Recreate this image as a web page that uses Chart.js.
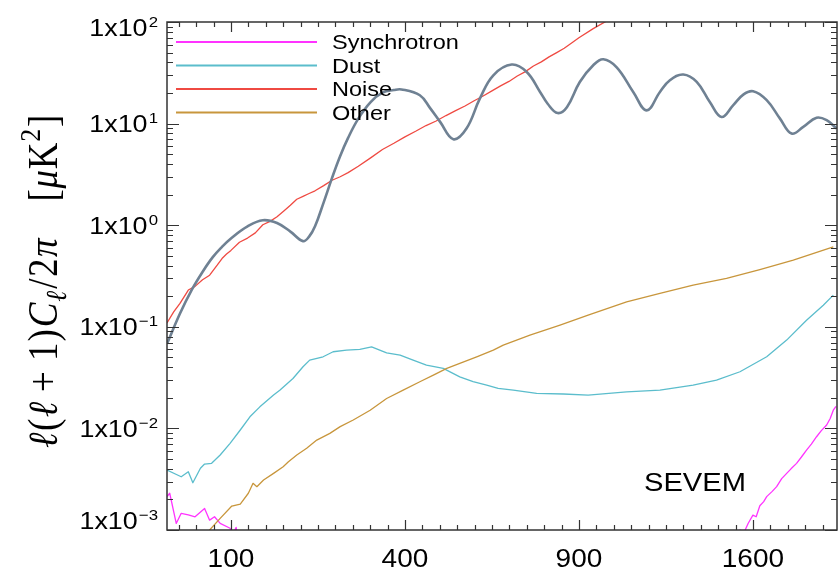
<!DOCTYPE html>
<html>
<head>
<meta charset="utf-8">
<script src="https://cdn.jsdelivr.net/npm/chart.js@4.4.1/dist/chart.umd.min.js"></script>
<style>
  html, body { margin: 0; padding: 0; background: #fff; }
  canvas { display: block; }
</style>
</head>
<body>
<canvas id="spec" width="838" height="575"></canvas>
<script>
// EE band powers l(l+1)C_l/2pi in muK^2, SEVEM component split
const ellCmb = [40, 50, 60, 70, 80, 90, 100, 120, 140, 160, 180, 200, 210, 220, 235, 250, 265, 280, 300, 325,
  350, 375, 392, 435, 460, 485, 519, 554, 591, 629, 683, 729, 771, 796, 828, 859, 903, 950, 986, 1035,
  1097, 1149, 1201, 1241, 1296, 1352, 1408, 1459, 1511, 1556, 1601, 1664, 1727, 1783, 1840, 1906, 1957, 2008];
const cmb = [0.068, 0.135, 0.231, 0.347, 0.482, 0.612, 0.741, 0.973, 1.12, 1.05, 0.865, 0.697, 0.771, 0.975, 1.68, 2.92, 4.8, 7.24, 11.2, 16.3,
  20.2, 21.4, 21.7, 19.0, 14.2, 10.4, 7.02, 8.94, 17.7, 29.9, 38.1, 32.2, 20.5, 15.6, 12.7, 14.5, 25.7, 37.5, 43.0, 35.8,
  20.5, 13.5, 20.5, 26.7, 30.4, 25.7, 16.3, 11.6, 15.2, 19.3, 20.8, 17.0, 11.2, 7.98, 9.27, 11.4, 10.8, 8.94];

const ellNoise = [40, 45, 50, 57, 63, 70, 77, 85, 90, 95, 100, 110, 120, 130, 140, 150, 160, 170, 180, 190,
  200, 210, 220, 235, 250, 265, 280, 300, 325, 350, 375, 400, 425, 450, 475, 500, 525, 550, 575, 600,
  625, 650, 675, 700, 725, 750, 775, 800, 825, 850, 875, 900, 950, 1000, 1050];
const noise = [0.109, 0.14, 0.17, 0.23, 0.25, 0.29, 0.322, 0.406, 0.47, 0.52, 0.565, 0.68, 0.747, 0.84, 1.01, 1.09, 1.21, 1.38, 1.57, 1.80,
  1.92, 2.05, 2.18, 2.45, 2.77, 3.0, 3.29, 3.81, 4.6, 5.56, 6.4, 7.41, 8.4, 9.57, 10.6, 12.0, 13.4, 14.9, 16.8, 18.7,
  21.0, 23.5, 26.0, 29.4, 32.5, 36.9, 40.5, 45.4, 50.0, 55.1, 62.0, 70.0, 86.0, 103, 122];

const ellDust = [40, 51, 57, 61, 68, 72, 79, 88, 99, 111, 123, 136, 155, 164, 184, 200, 211, 234, 252, 277,
  303, 327, 359, 389, 419, 451, 493, 536, 572, 610, 643, 688, 760, 847, 932, 1072, 1201, 1337, 1437, 1541,
  1664, 1759, 1856, 1940, 1991];
const dust = [0.00389, 0.00334, 0.00374, 0.00292, 0.00405, 0.00446, 0.00453, 0.00547, 0.00713, 0.00964, 0.0130, 0.0163, 0.0213, 0.0238, 0.0310, 0.0404, 0.0470, 0.0507, 0.0568, 0.0590,
  0.0600, 0.0635, 0.0555, 0.0526, 0.0470, 0.0420, 0.0390, 0.0322, 0.0288, 0.0267, 0.0248, 0.0238, 0.0221, 0.0218, 0.0213, 0.0229, 0.0238, 0.0267, 0.0299, 0.0361,
  0.0507, 0.0740, 0.116, 0.163, 0.205];

const ellOther = [74, 77, 88, 101, 111, 121, 127, 132, 141, 155, 169, 177, 190, 206, 223, 246, 265, 290, 324, 359,
  396, 435, 468, 502, 536, 582, 629, 658, 739, 836, 932, 1072, 1201, 1337, 1481, 1632, 1791, 1991];
const other = [0.00085, 0.00100, 0.00130, 0.00172, 0.00180, 0.00230, 0.00288, 0.00267, 0.00310, 0.00361, 0.00420, 0.00470, 0.00547, 0.00637, 0.00768, 0.00893, 0.0104, 0.0121, 0.0151, 0.0197,
  0.0238, 0.0288, 0.0335, 0.0390, 0.0436, 0.0507, 0.0590, 0.0661, 0.0828, 0.104, 0.130, 0.176, 0.213, 0.257, 0.299, 0.366, 0.453, 0.612];

const ellSync = [40, 42, 47, 51, 57, 63, 72, 77, 82, 88, 99, 102, 106, 110, 800,
  1530, 1541, 1560, 1578, 1600, 1615, 1632, 1650, 1664, 1690, 1711, 1735, 1759, 1780, 1807, 1830, 1856, 1880, 1906, 1930, 1957, 1975, 1991, 2005];
const sync = [0.00213, 0.00230, 0.00116, 0.00146, 0.00141, 0.00135, 0.00163, 0.00125, 0.00135, 0.00116, 0.00104, 0.00090, 0.00106, 0.00070, null,
  0.00070, 0.00100, 0.00095, 0.00116, 0.00140, 0.00135, 0.00173, 0.00190, 0.00213, 0.00240, 0.00267, 0.00320, 0.00361, 0.00400, 0.00453, 0.0052, 0.00612, 0.0070, 0.00828, 0.0095, 0.0108, 0.0125, 0.0151, 0.0165];

const xTickLabels = [100, 400, 900, 1600];
const yDecades = [-3, -2, -1, 0, 1, 2];
const legendNames = ['Synchrotron', 'Dust', 'Noise', 'Other'];
const legendColors = ['#ff33ff', '#5bbdcc', '#ef4a42', '#c8963c'];
const cmbColor = '#6f8193';

const ellMin = 40, ellMax = 2010;
const SX = 1.12; // horizontal stretch applied to all lettering

// x axis runs linearly in sqrt(l)
function pts(ells, vals) {
  return ells.map((l, i) => ({ x: Math.sqrt(l), y: vals[i] }));
}

function stretchText(ctx, str, x, y, align) {
  ctx.save();
  ctx.translate(x, y);
  ctx.scale(SX, 1);
  ctx.textAlign = align || 'left';
  ctx.fillText(str, 0, 0);
  ctx.restore();
}

const SANS = '"Liberation Sans", Arial, Helvetica, sans-serif';
const SERIF = '"Liberation Serif", "DejaVu Serif", serif';

const framePlugin = {
  id: 'frame',
  afterDraw(chart) {
    const ctx = chart.ctx;
    const { left, right, top, bottom } = chart.chartArea;
    const xs = chart.scales.x, ys = chart.scales.y;
    ctx.save();
    ctx.strokeStyle = '#333';
    ctx.lineWidth = 1.5;
    ctx.strokeRect(left, top, right - left, bottom - top);

    // x ticks, one per unit of sqrt(l), both edges pointing in
    ctx.lineWidth = 1.2;
    ctx.beginPath();
    for (let s = 7; s <= 44; s++) {
      const px = Math.round(xs.getPixelForValue(s)) + 0.5;
      const len = s % 10 === 0 ? 10 : 5;
      ctx.moveTo(px, bottom); ctx.lineTo(px, bottom - len);
      ctx.moveTo(px, top); ctx.lineTo(px, top + len);
    }
    // log y ticks on both sides
    for (let d = -3; d <= 2; d++) {
      for (let m = 1; m <= 9; m++) {
        const v = m * Math.pow(10, d);
        if (v > 100.0001) break;
        const py = Math.round(ys.getPixelForValue(v)) + 0.5;
        const len = m === 1 ? 12 : 6;
        ctx.moveTo(left, py); ctx.lineTo(left + len, py);
        ctx.moveTo(right, py); ctx.lineTo(right - len, py);
      }
    }
    ctx.stroke();

    ctx.fillStyle = '#000';
    ctx.textBaseline = 'alphabetic';

    // x tick labels
    ctx.font = '25px ' + SANS;
    xTickLabels.forEach(l => {
      stretchText(ctx, String(l), xs.getPixelForValue(Math.sqrt(l)), 567, 'center');
    });

    // y tick labels 1x10^n
    yDecades.forEach(d => {
      const py = ys.getPixelForValue(Math.pow(10, d));
      const cy = Math.min(Math.max(py, 27), 520);
      const exp = d < 0 ? '\u2212' + (-d) : String(d);
      ctx.font = '24px ' + SANS;
      const mainW = ctx.measureText('1x10').width;
      ctx.font = '15px ' + SANS;
      const supW = ctx.measureText(exp).width;
      const x0 = 158 - (mainW + supW + 1) * SX;
      ctx.font = '24px ' + SANS;
      stretchText(ctx, '1x10', x0, cy + 8.5, 'left');
      ctx.font = '15px ' + SANS;
      stretchText(ctx, exp, x0 + (mainW + 1) * SX, cy - 0.5, 'left');
    });

    // rotated axis title
    ctx.save();
    ctx.translate(57, 448);
    ctx.rotate(-Math.PI / 2);
    ctx.scale(1, SX);
    const fs = 37;
    const segs = [
      ['\u2113', 'italic', 0], ['(', '', 0.04], ['\u2113', 'italic', 0.04], ['+', '', 0.27], ['1', '', 0.27], [')', '', 0.03],
      ['C', 'italic', 0.05], ['\u2113', 'italic', 0.02, 'sub'], ['/', '', 0.06], ['2', '', 0.04], ['\u03c0', 'italic', 0.04],
      ['[', '', 1.0], ['\u03bc', 'italic', 0.02], ['K', '', 0.02], ['2', '', 0.02, 'sup'], [']', '', 0.05]
    ];
    let cx = 0;
    segs.forEach(([t, style, pre, pos]) => {
      cx += pre * fs;
      const size = pos ? fs * 0.7 : fs;
      ctx.font = (style ? style + ' ' : '') + size + 'px ' + SERIF;
      const dy = pos === 'sub' ? fs * 0.22 : pos === 'sup' ? -fs * 0.42 : 0;
      ctx.textAlign = 'left';
      ctx.fillText(t, cx, dy);
      cx += ctx.measureText(t).width;
    });
    ctx.restore();

    // component legend inside the frame
    ctx.lineWidth = 1.8;
    ctx.font = '21px ' + SANS;
    legendNames.forEach((name, i) => {
      const ly = 42 + i * 23.5;
      ctx.strokeStyle = legendColors[i];
      ctx.beginPath();
      ctx.moveTo(176, ly); ctx.lineTo(317, ly);
      ctx.stroke();
      ctx.fillStyle = '#000';
      stretchText(ctx, name, 332, ly + 7, 'left');
    });

    ctx.font = '26px ' + SANS;
    stretchText(ctx, 'SEVEM', 695, 491, 'center');
    ctx.restore();
  }
};

function series(data, color, width, smooth) {
  return {
    data: data,
    borderColor: color,
    borderWidth: width,
    pointRadius: 0,
    fill: false,
    spanGaps: false,
    clip: 0,
    borderJoinStyle: 'round',
    tension: smooth ? 0.4 : 0
  };
}

new Chart(document.getElementById('spec'), {
  type: 'line',
  data: {
    datasets: [
      series(pts(ellCmb, cmb), cmbColor, 2.6, true),
      series(pts(ellNoise, noise), legendColors[2], 1.3, false),
      series(pts(ellOther, other), legendColors[3], 1.3, false),
      series(pts(ellDust, dust), legendColors[1], 1.3, false),
      series(pts(ellSync, sync), legendColors[0], 1.3, false)
    ]
  },
  options: {
    responsive: false,
    animation: false,
    devicePixelRatio: 1,
    layout: { padding: { left: 167, right: 1, top: 22, bottom: 45 } },
    scales: {
      x: { type: 'linear', display: false, min: Math.sqrt(ellMin), max: Math.sqrt(ellMax) },
      y: { type: 'logarithmic', display: false, min: 1e-3, max: 100 }
    },
    plugins: { legend: { display: false }, tooltip: { enabled: false } }
  },
  plugins: [framePlugin]
});
</script>
</body>
</html>
